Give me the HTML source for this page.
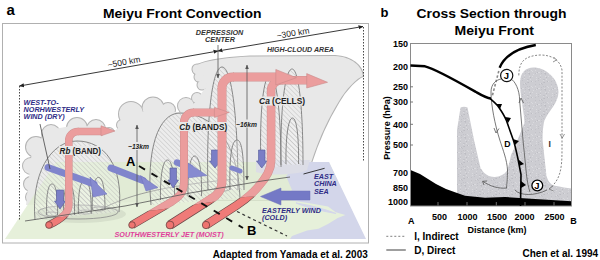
<!DOCTYPE html>
<html><head><meta charset="utf-8">
<style>
html,body{margin:0;padding:0;background:#fff;width:600px;height:260px;overflow:hidden}
svg{display:block}
text{font-family:"Liberation Sans",sans-serif}
</style></head><body>
<svg width="600" height="260" viewBox="0 0 600 260">
<defs>
<pattern id="hatch" patternUnits="userSpaceOnUse" width="3.3" height="3.3" patternTransform="rotate(-45)">
<rect width="3.3" height="3.3" fill="#ffffff" fill-opacity="0.18"/>
<line x1="0" y1="0" x2="0" y2="3.3" stroke="#b8b8b8" stroke-width="0.85"/>
</pattern>
<pattern id="speck" patternUnits="userSpaceOnUse" width="16" height="16">
<rect width="16" height="16" fill="#cdcdd2"/>
<rect x="7" y="4" width="1" height="1" fill="#c2c2c8"/><rect x="15" y="2" width="1" height="1" fill="#dadade"/><rect x="0" y="15" width="1" height="1" fill="#c2c2c8"/><rect x="7" y="6" width="1" height="1" fill="#dadade"/><rect x="15" y="15" width="1" height="1" fill="#c2c2c8"/><rect x="4" y="7" width="1" height="1" fill="#dadade"/><rect x="4" y="12" width="1" height="1" fill="#dadade"/><rect x="0" y="2" width="1" height="1" fill="#bcbcc2"/><rect x="1" y="9" width="1" height="1" fill="#bcbcc2"/><rect x="8" y="15" width="1" height="1" fill="#dadade"/><rect x="12" y="13" width="1" height="1" fill="#c2c2c8"/><rect x="14" y="4" width="1" height="1" fill="#c2c2c8"/><rect x="3" y="1" width="1" height="1" fill="#bcbcc2"/><rect x="15" y="6" width="1" height="1" fill="#c2c2c8"/><rect x="13" y="9" width="1" height="1" fill="#c2c2c8"/><rect x="12" y="11" width="1" height="1" fill="#dadade"/><rect x="13" y="7" width="1" height="1" fill="#c2c2c8"/><rect x="0" y="8" width="1" height="1" fill="#dadade"/><rect x="5" y="10" width="1" height="1" fill="#dadade"/><rect x="3" y="6" width="1" height="1" fill="#dadade"/><rect x="8" y="9" width="1" height="1" fill="#bcbcc2"/><rect x="2" y="15" width="1" height="1" fill="#dadade"/><rect x="15" y="2" width="1" height="1" fill="#c2c2c8"/><rect x="2" y="13" width="1" height="1" fill="#bcbcc2"/><rect x="0" y="9" width="1" height="1" fill="#c2c2c8"/><rect x="13" y="3" width="1" height="1" fill="#bcbcc2"/><rect x="1" y="12" width="1" height="1" fill="#dadade"/><rect x="10" y="8" width="1" height="1" fill="#dadade"/><rect x="7" y="1" width="1" height="1" fill="#c2c2c8"/><rect x="0" y="2" width="1" height="1" fill="#bcbcc2"/><rect x="1" y="6" width="1" height="1" fill="#c2c2c8"/><rect x="9" y="8" width="1" height="1" fill="#bcbcc2"/><rect x="1" y="10" width="1" height="1" fill="#c2c2c8"/><rect x="11" y="4" width="1" height="1" fill="#c2c2c8"/><rect x="12" y="14" width="1" height="1" fill="#dadade"/><rect x="12" y="3" width="1" height="1" fill="#dadade"/><rect x="8" y="13" width="1" height="1" fill="#dadade"/><rect x="7" y="9" width="1" height="1" fill="#c2c2c8"/><rect x="8" y="9" width="1" height="1" fill="#dadade"/><rect x="10" y="0" width="1" height="1" fill="#c2c2c8"/><rect x="10" y="0" width="1" height="1" fill="#c2c2c8"/><rect x="4" y="1" width="1" height="1" fill="#dadade"/><rect x="10" y="14" width="1" height="1" fill="#c2c2c8"/><rect x="11" y="8" width="1" height="1" fill="#dadade"/><rect x="15" y="0" width="1" height="1" fill="#dadade"/>
</pattern>
<marker id="ah" viewBox="0 0 10 10" refX="9" refY="5" markerWidth="5.5" markerHeight="5.5" orient="auto-start-reverse">
<path d="M0,1 L10,5 L0,9 z" fill="#222"/>
</marker>
<marker id="ahg" viewBox="0 0 10 10" refX="9" refY="5" markerWidth="6" markerHeight="6" orient="auto-start-reverse">
<path d="M0,1 L10,5 L0,9 z" fill="#555"/>
</marker>
</defs>

<!-- titles -->
<text x="6.5" y="15" font-size="15" font-weight="bold">a</text>
<text x="103" y="17.7" font-size="13" font-weight="bold" textLength="158.5" lengthAdjust="spacingAndGlyphs">Meiyu Front Convection</text>
<text x="380.5" y="17.2" font-size="13" font-weight="bold">b</text>
<text x="416.5" y="17.8" font-size="13" font-weight="bold" textLength="150" lengthAdjust="spacingAndGlyphs">Cross Section through</text>
<text x="454.5" y="34.5" font-size="13" font-weight="bold" textLength="79.5" lengthAdjust="spacingAndGlyphs">Meiyu Front</text>

<!-- ============ LEFT PANEL ============ -->
<g id="left">
<g fill="#b3b3b3">
<path d="M194,73 C187,64 212,58.5 250,56.5 L335,56 C352,57 362,66 363,76 C357,78 346,89 338.5,102 C330,116 320,135 311,163 L305,200 L212,200 L207,92 L199,76 Z" stroke="#b3b3b3" stroke-width="2"/>
<circle cx="197" cy="69" r="4.5" stroke="#b3b3b3" stroke-width="2"/>
<circle cx="199" cy="77" r="4.5" stroke="#b3b3b3" stroke-width="2"/>
<circle cx="202" cy="85" r="4.5" stroke="#b3b3b3" stroke-width="2"/>
<circle cx="197" cy="98" r="5" stroke="#b3b3b3" stroke-width="2"/>
<circle cx="186" cy="106" r="8" stroke="#b3b3b3" stroke-width="2"/>
<circle cx="168" cy="110" r="7" stroke="#b3b3b3" stroke-width="2"/>
<circle cx="153" cy="108" r="10.5" stroke="#b3b3b3" stroke-width="2"/>
<circle cx="131" cy="114" r="12" stroke="#b3b3b3" stroke-width="2"/>
<circle cx="122" cy="125" r="5" stroke="#b3b3b3" stroke-width="2"/>
<circle cx="109" cy="133" r="5" stroke="#b3b3b3" stroke-width="2"/>
<circle cx="96" cy="129" r="9" stroke="#b3b3b3" stroke-width="2"/>
<circle cx="77" cy="128" r="10" stroke="#b3b3b3" stroke-width="2"/>
<circle cx="51" cy="134" r="9" stroke="#b3b3b3" stroke-width="2"/>
<circle cx="36" cy="147" r="10" stroke="#b3b3b3" stroke-width="2"/>
<circle cx="31" cy="166" r="8" stroke="#b3b3b3" stroke-width="2"/>
<circle cx="31" cy="184" r="7" stroke="#b3b3b3" stroke-width="2"/>
<circle cx="32" cy="197" r="6" stroke="#b3b3b3" stroke-width="2"/>
</g>
<g fill="#e8e8e8">
<path d="M194,73 C187,64 212,58.5 250,56.5 L335,56 C352,57 362,66 363,76 C357,78 346,89 338.5,102 C330,116 320,135 311,163 L305,200 L212,200 L207,92 L199,76 Z"/>
<circle cx="197" cy="69" r="4.5"/>
<circle cx="199" cy="77" r="4.5"/>
<circle cx="202" cy="85" r="4.5"/>
<circle cx="197" cy="98" r="5"/>
<circle cx="186" cy="106" r="8"/>
<circle cx="168" cy="110" r="7"/>
<circle cx="153" cy="108" r="10.5"/>
<circle cx="131" cy="114" r="12"/>
<circle cx="122" cy="125" r="5"/>
<circle cx="109" cy="133" r="5"/>
<circle cx="96" cy="129" r="9"/>
<circle cx="77" cy="128" r="10"/>
<circle cx="51" cy="134" r="9"/>
<circle cx="36" cy="147" r="10"/>
<circle cx="31" cy="166" r="8"/>
<circle cx="31" cy="184" r="7"/>
<circle cx="32" cy="197" r="6"/>
<path d="M32,150 L48,130 L77,125 L100,128 L108,136 L122,125 L141,112 L186,112 L197,100 L205,88 L209,92 L216,200 L26,205 Z"/>
</g>
<!-- ground -->
<path d="M56,162 L329,162 L365,239 L5,239 Z" fill="#dfeccf" opacity="0.78"/>
<!-- sea -->
<path d="M300,162 L329,162 L366,239 L290,239 L292,236 L307,230.6 L318.5,228.7 L328,224 L337.7,218 L345.4,215 L335.8,212.3 L328,206.5 L312.7,203.7 L293.5,200.8 L284,198.8 L292,190 L286,176 Z" fill="#d3d6ea"/>
<path d="M296,203 C308,205 322,208 336,213.5 C322,211 308,208 296,203 Z" fill="#d3d6ea" stroke="#d3d6ea" stroke-width="1.2"/>
<!-- ground ellipses -->
<ellipse cx="80" cy="214" rx="46" ry="9" fill="#b9c2b2" opacity="0.35"/>

<g fill="none" stroke="#8a8a8a" stroke-width="0.8">
<ellipse cx="78" cy="212" rx="40" ry="7"/><ellipse cx="52" cy="214" rx="6" ry="2"/><ellipse cx="85" cy="212" rx="6.5" ry="2"/><ellipse cx="98.6" cy="209" rx="6.5" ry="2"/>
<path d="M100,210 C125,196 160,186 236,179"/>
<ellipse cx="271" cy="167" rx="9.5" ry="2.6"/><ellipse cx="292" cy="164.5" rx="11" ry="3"/><ellipse cx="222" cy="189" rx="8" ry="2.2"/>
</g>

<!-- domes -->
<path d="M256,160 L310,160 L307,170 C300,175 266,176 256,172 Z" fill="#dcdde6"/>
<g stroke="#7c7c7c" stroke-width="0.9" fill="url(#hatch)">
<path d="M35,220 C31,175 50,141 77,141 C104,141 124,165 119,212"/>
<path d="M151,205 C146,150 158,113 180,113 C212,113 238,140 240,198"/>
<path d="M208,190 C206,120 212,67 222,67 C232,67 238,120 238,190"/>
<path d="M261,167 C259,110 264,75 270,75 C276,75 281,110 281,167"/>
<path d="M281,165 C280,110 285,69 292,69 C299,69 303,110 303,165"/>
<path d="M286,164 C285.5,140 288,118 292.5,118 C297,118 299,140 298.5,164"/>
<path d="M46.7,215 C46,196 48,184 52,184 C56,184 58,196 57.5,215"/>
<path d="M63.6,215 C63,196 65,185 69,185 C73,185 75,196 74.4,215"/>
<path d="M78.4,214 C78,194 80,180.6 84.7,180.6 C89.5,180.6 91.5,194 91.2,214"/>
<path d="M92.2,210 C92,190 94,177.4 98.5,177.4 C103,177.4 105,190 105,210"/>
<path d="M160.5,200 C160,175 163,160 167.5,160 C172,160 175,175 174.5,200"/>
<path d="M188,196 C187.5,172 190,156 194.7,156 C199.5,156 202,172 201.5,196"/>
<path d="M230,190 C229,150 233,140 237,140 C241,140 244,150 244,190"/>
</g>

<!-- blue arrows (back) -->
<g stroke-linecap="round" fill="none" stroke="#8085cc">
<line x1="48" y1="167.5" x2="94" y2="184" stroke-width="7"/>
<line x1="111" y1="168" x2="143" y2="180.5" stroke-width="7"/>
<line x1="177" y1="162.5" x2="190" y2="167.5" stroke-width="6.5"/>
<line x1="232" y1="168" x2="240" y2="171" stroke-width="5"/>
</g>
<g fill="#878bd0" stroke="#6f73b8" stroke-width="0.5">
<path d="M90,177 L107,194 L93,197 Z"/>
<path d="M140.5,175.5 L158,187.5 L146,191 Z"/>
<path d="M188,163 L207,175.5 L187,178 Z"/>
<path d="M310,191 L281,191 L281,188 L260.5,196.5 L281,205 L281,200 L310,200 Z" fill="#7479c6"/>
</g>
<!-- dimension lines -->
<line x1="19.5" y1="86" x2="218" y2="51" stroke="#222" stroke-width="0.9" marker-start="url(#ah)" marker-end="url(#ah)"/>
<line x1="218" y1="51" x2="363" y2="26.5" stroke="#222" stroke-width="0.9" marker-start="url(#ah)" marker-end="url(#ah)"/>
<line x1="218" y1="45" x2="218" y2="78" stroke="#555" stroke-width="0.8" marker-end="url(#ahg)"/>
<line x1="19.5" y1="86" x2="19.5" y2="221" stroke="#333" stroke-width="0.9" stroke-dasharray="1.5,1.5"/>
<line x1="363.5" y1="27" x2="363.5" y2="162" stroke="#333" stroke-width="0.9" stroke-dasharray="1.5,1.5"/>
<text transform="translate(124.5,65) rotate(-10)" font-size="8.6" text-anchor="middle" fill="#222">~500 km</text>
<text transform="translate(293.5,36) rotate(-9.5)" font-size="8.6" text-anchor="middle" fill="#222">~300 km</text>
<g font-size="7" font-weight="bold" font-style="italic" fill="#333" text-anchor="middle">
<text x="219.6" y="35.2" textLength="47.5" lengthAdjust="spacingAndGlyphs">DEPRESSION</text>
<text x="220" y="42.2" textLength="30" lengthAdjust="spacingAndGlyphs">CENTER</text>
<text x="300.5" y="52.4" textLength="67" lengthAdjust="spacingAndGlyphs">HIGH-CLOUD AREA</text>
</g>
<g font-size="7.2" font-weight="bold" font-style="italic" fill="#2e2c86">
<text x="23.6" y="104.6">WEST-TO-</text>
<text x="23.6" y="111.6">NORHWESTERLY</text>
<text x="23.6" y="118.6">WIND (DRY)</text>
<text x="314" y="179">EAST</text>
<text x="314" y="186.3">CHINA</text>
<text x="314" y="193.6">SEA</text>
<text x="262" y="212.6">EASTERLY WIND</text>
<text x="262" y="220">(COLD)</text>
</g>
<line x1="40" y1="124" x2="50" y2="169" stroke="#444" stroke-width="0.8"/>
<line x1="324.6" y1="168.3" x2="303.5" y2="174" stroke="#222" stroke-width="0.9"/>

<!-- small blue down arrows -->
<g fill="#7a7ec6" stroke="#555a9a" stroke-width="0.6">
<path d="M56.5,190 L63.5,190 L63.5,201 L65.5,201 L60,209 L54.5,201 L56.5,201 Z"/>
<path d="M170,168 L176.5,168 L176.5,180 L178.5,180 L173.2,188 L168,180 L170,180 Z"/>
<path d="M211.5,150 L218.5,150 L218.5,161 L220.5,161 L215,168 L209.5,161 L211.5,161 Z"/>
<path d="M258.5,150 L265,150 L265,161 L267,161 L261.8,168 L256.5,161 L258.5,161 Z"/>
</g>

<!-- pink tubes -->
<clipPath id="below"><path d="M0,219 L62,217 L157,210 L205,203 L245,197 L370,190 L370,260 L0,260 Z"/></clipPath>
<clipPath id="above"><path d="M0,0 L370,0 L370,190 L245,197 L205,203 L157,210 L62,217 L0,219 Z"/></clipPath>
<g fill="none" stroke-linecap="butt" clip-path="url(#above)">
<path d="M68.8,140 L68.8,205 C68.8,213 62,219 49,225" stroke="#cf9090" stroke-width="7.6"/>
<path d="M77.8,131.5 L103,131.5" stroke="#cf9090" stroke-width="7.6"/>
<path d="M184,122 L184,182 C184,192 180,196 172,201.5 L132,225" stroke="#cf9090" stroke-width="8.0"/>
<path d="M193,112.5 L216,112.5" stroke="#cf9090" stroke-width="8.0"/>
<path d="M222,88 L222,181 C222,190 218,195 210,199.5 L170,225" stroke="#cf9090" stroke-width="9.0"/>
<path d="M233,77 L278,77" stroke="#cf9090" stroke-width="9.0"/>
<path d="M271.1,91 L271.1,161 C271.1,170 266,178 258,187 C252,194 246,199 236.5,205.4 L206,225" stroke="#cf9090" stroke-width="8.6"/>
<path d="M281.6,80.3 L307,80.3" stroke="#cf9090" stroke-width="8.6"/>
<path d="M68.8,141 A9,9 0 0 1 77.8,131.5 L78.8,131.5" stroke="#cf9090" stroke-width="7.6"/>
<path d="M184,122.5 A9.5,9.5 0 0 1 193.5,112.5 L194,112.5" stroke="#cf9090" stroke-width="8.0"/>
<path d="M222,89 A11,11 0 0 1 233,77 L234,77" stroke="#cf9090" stroke-width="9.0"/>
<path d="M271.1,91.5 A10.5,10.5 0 0 1 281.6,80.3 L282.6,80.3" stroke="#cf9090" stroke-width="8.6"/>
<path d="M68.8,140 L68.8,205 C68.8,213 62,219 49,225" stroke="#eb9d9d" stroke-width="6.6"/>
<path d="M77.8,131.5 L103,131.5" stroke="#eb9d9d" stroke-width="6.6"/>
<path d="M184,122 L184,182 C184,192 180,196 172,201.5 L132,225" stroke="#eb9d9d" stroke-width="7.0"/>
<path d="M193,112.5 L216,112.5" stroke="#eb9d9d" stroke-width="7.0"/>
<path d="M222,88 L222,181 C222,190 218,195 210,199.5 L170,225" stroke="#eb9d9d" stroke-width="8.0"/>
<path d="M233,77 L278,77" stroke="#eb9d9d" stroke-width="8.0"/>
<path d="M271.1,91 L271.1,161 C271.1,170 266,178 258,187 C252,194 246,199 236.5,205.4 L206,225" stroke="#eb9d9d" stroke-width="7.6"/>
<path d="M281.6,80.3 L307,80.3" stroke="#eb9d9d" stroke-width="7.6"/>
<path d="M68.8,141 A9,9 0 0 1 77.8,131.5 L78.8,131.5" stroke="#eb9d9d" stroke-width="6.6"/>
<path d="M184,122.5 A9.5,9.5 0 0 1 193.5,112.5 L194,112.5" stroke="#eb9d9d" stroke-width="7.0"/>
<path d="M222,89 A11,11 0 0 1 233,77 L234,77" stroke="#eb9d9d" stroke-width="8.0"/>
<path d="M271.1,91.5 A10.5,10.5 0 0 1 281.6,80.3 L282.6,80.3" stroke="#eb9d9d" stroke-width="7.6"/>
</g>
<g fill="none" stroke-linecap="butt" clip-path="url(#below)">
<path d="M68.8,140 L68.8,205 C68.8,213 62,219 49,225" stroke="#6a4a4a" stroke-width="7.8"/>
<path d="M184,122 L184,182 C184,192 180,196 172,201.5 L132,225" stroke="#6a4a4a" stroke-width="8.2"/>
<path d="M222,88 L222,181 C222,190 218,195 210,199.5 L170,225" stroke="#6a4a4a" stroke-width="9.2"/>
<path d="M271.1,91 L271.1,161 C271.1,170 266,178 258,187 C252,194 246,199 236.5,205.4 L206,225" stroke="#6a4a4a" stroke-width="8.799999999999999"/>
<path d="M68.8,140 L68.8,205 C68.8,213 62,219 49,225" stroke="#ef7b78" stroke-width="6.6"/>
<path d="M184,122 L184,182 C184,192 180,196 172,201.5 L132,225" stroke="#ef7b78" stroke-width="7.0"/>
<path d="M222,88 L222,181 C222,190 218,195 210,199.5 L170,225" stroke="#ef7b78" stroke-width="8.0"/>
<path d="M271.1,91 L271.1,161 C271.1,170 266,178 258,187 C252,194 246,199 236.5,205.4 L206,225" stroke="#ef7b78" stroke-width="7.6"/>
</g>
<g fill="#eb9d9d" stroke="#c98a8a" stroke-width="0.6">
<path d="M101,125.8 L115,131 L101,135.8 Z"/>
<path d="M214.4,107.4 L229.2,112.4 L214.4,117.4 Z"/>
<path d="M275.8,69.5 L296.5,77.7 L275.8,85 Z"/>
<path d="M306.7,73.6 L327.5,82.3 L306.7,88 Z"/>
</g>
<g fill="#ef7470" stroke="#5a3a3a" stroke-width="0.7">
<circle cx="132" cy="225" r="3.3"/>
<circle cx="170" cy="225" r="3.9"/>
<circle cx="206" cy="225" r="3.7"/>
<circle cx="49" cy="225" r="3.4"/>
</g>

<!-- ground line and dashed A-B -->
<path d="M25,221 L125,206 L190,193 L262,181 L290,177" fill="none" stroke="#555" stroke-width="0.8"/>
<line x1="139" y1="166" x2="243" y2="228" stroke="#111" stroke-width="1.9" stroke-dasharray="7,7.5"/>
<line x1="237" y1="211.5" x2="287" y2="236" stroke="#333" stroke-width="1.2" stroke-dasharray="3,3"/>

<text x="126" y="166.4" font-size="13" font-weight="bold">A</text>
<text x="247" y="235" font-size="13" font-weight="bold">B</text>
<rect x="59" y="146" width="43" height="9" fill="#e8e8e8"/>
<rect x="178" y="122" width="50" height="9" fill="#e8e8e8"/>
<rect x="258" y="96.5" width="48" height="9" fill="#e8e8e8"/>
<g font-size="8.3" fill="#222" font-weight="bold">
<text x="59.6" y="153.8" textLength="41.4" lengthAdjust="spacingAndGlyphs"><tspan font-style="italic">Rb</tspan> (BAND)</text>
<text x="179.2" y="129.8" textLength="48" lengthAdjust="spacingAndGlyphs"><tspan font-style="italic">Cb</tspan> (BANDS)</text>
<text x="259.1" y="104.2" textLength="46" lengthAdjust="spacingAndGlyphs"><tspan font-style="italic">Ca</tspan> (CELLS)</text>
</g>
<line x1="137" y1="207" x2="137" y2="125" stroke="#555" stroke-width="0.8" marker-end="url(#ahg)" marker-start="url(#ahg)"/>
<line x1="247" y1="180" x2="247" y2="65" stroke="#555" stroke-width="0.8" marker-end="url(#ahg)" marker-start="url(#ahg)"/>
<g font-size="7" font-style="italic" font-weight="bold" fill="#222">
<rect x="127" y="142" width="21" height="8" fill="#e8e8e8"/><text x="128" y="149" textLength="21" lengthAdjust="spacingAndGlyphs">~13km</text>
<rect x="236" y="119.5" width="21" height="8" fill="#e8e8e8"/><text x="236" y="126.5" textLength="21" lengthAdjust="spacingAndGlyphs">~16km</text>
</g>
<text x="114.5" y="236.5" font-size="7.2" font-weight="bold" font-style="italic" fill="#e0409a">SOUTHWESTERLY JET (MOIST)</text>

<!-- frame -->
<rect x="2.5" y="23.5" width="366" height="219.5" fill="none" stroke="#b0b0b0" stroke-width="1"/>
</g>
<text x="212.7" y="257.7" font-size="10" font-weight="bold" textLength="155" lengthAdjust="spacingAndGlyphs">Adapted from Yamada et al. 2003</text>

<!-- ============ RIGHT PANEL ============ -->
<g id="right">
<!-- gray shading -->
<path d="M460.5,107.5 Q464,106 467.5,107.5 L472,130 L474,140 L480.5,168 C484,174 489,177 494.4,177 C500,177 505,174 507,170.5 C509,165 510,160 511,155 L515.8,145 C519,135 523,128 524.5,122 C524,112 520,95 520,83 C520,72 526,67.5 533.5,67.5 C545,67.5 558.5,78 558.5,92 C558.5,104 547,112 544,122 C542.5,130 542.6,135 542.6,140 L546.4,175.5 C548,182 552,186 556.6,186 C562,187 566,188 571.5,188.5 L571.5,203 L457,203 L457,130 Z" fill="url(#speck)"/>
<!-- terrain -->
<path d="M410.5,170 L420,174 L436,184 L446,189 L455,192.3 L465,195.7 L485,197.7 L505,197 L535,199 L571.5,201.3 L571.5,206 L410.5,206 Z" fill="#000"/>
<rect x="410.5" y="43.5" width="161" height="162.5" fill="none" stroke="#8a8a8a" stroke-width="1"/>
<g stroke="#888" stroke-width="0.8"><line x1="438" y1="202" x2="438" y2="205.5"/><line x1="467" y1="202" x2="467" y2="205.5"/><line x1="496.3" y1="202" x2="496.3" y2="205.5"/><line x1="525" y1="202" x2="525" y2="205.5"/><line x1="554" y1="202" x2="554" y2="205.5"/></g>
<!-- ticks -->
<g stroke="#555" stroke-width="0.8">
<line x1="410.5" y1="86.8" x2="413" y2="86.8"/>
<line x1="410.5" y1="102" x2="413" y2="102"/>
<line x1="410.5" y1="124.3" x2="413" y2="124.3"/>
<line x1="410.5" y1="145" x2="413" y2="145"/>
</g>
<!-- tropopause -->
<path d="M410.5,65.5 L425,66.3 C436,69 462,84 476,92 C482,95.5 486,98 491,98.5" fill="none" stroke="#000" stroke-width="2.4"/>
<path d="M499.6,67.7 C505,55 518,48 535.8,45" fill="none" stroke="#000" stroke-width="2.4"/>
<path d="M498.8,71 L492,97" fill="none" stroke="#888" stroke-width="1.6" stroke-dasharray="2.5,2"/>
<!-- D loop (solid thin) -->
<path d="M501,79 C496,80 491,84 491,92 C491,105 495,125 499.8,140 C503,150 507,160 507.5,170 C507.5,178 507,182 506.5,188" fill="none" stroke="#555" stroke-width="0.8"/>
<path d="M511,79 C515,81 519.6,90 519.6,100 L523,140 L526,170 C527,180 528,186 530,192" fill="none" stroke="#555" stroke-width="0.8"/>
<path d="M483,181.5 C490,186 498,189 507,188" fill="none" stroke="#555" stroke-width="0.8"/>
<path d="M482.5,181.3 L487,181 M482.5,181.3 L484,185" stroke="#555" stroke-width="0.8"/>
<path d="M519,103 L521,98 L523.5,103 M494,128 L496,133 L499,128.5" fill="none" stroke="#555" stroke-width="0.8"/>
<path d="M515,190 C520,196 535,196 547,190" fill="none" stroke="#555" stroke-width="0.8"/>
<!-- I loop (dashed) -->
<path d="M518.8,75.4 C519,62 524,56 540,55 C552,55 560,60 562,70 L562,150 C562,170 560,180 549,189" fill="none" stroke="#777" stroke-width="0.9" stroke-dasharray="2,1.6"/>
<path d="M553.7,57 L556.5,60 L553,62 M560,134 L562.2,138 L564.5,134 M549,189 L553,186 M549,189 L553.5,191" fill="none" stroke="#777" stroke-width="0.8"/>
<!-- front -->
<path d="M490.2,98.7 C494,102 498,106 498.8,107.3 C502,112 505,117 506.5,120.8 L513.3,140 C515,145 518,159 518,159 L521,174.6 L520.5,206" fill="none" stroke="#000" stroke-width="1.6"/>
<g fill="#000">
<path d="M496,104 L502,104 L500,109 Z"/>
<path d="M505,117 L511,118 L508,123 Z"/>
<path d="M513,139 L519,141 L515,145 Z"/>
<path d="M519,160 L524,164 L519,166 Z"/>
<path d="M521,181 L526,185 L521,188 Z"/>
</g>
<circle cx="506.7" cy="75.5" r="6.1" fill="#fff" stroke="#111" stroke-width="1.2"/>
<text x="506.4" y="79.3" font-size="9.5" font-weight="bold" text-anchor="middle">J</text>
<circle cx="537.3" cy="185.5" r="5.4" fill="#fff" stroke="#000" stroke-width="1.3"/>
<text x="537" y="189.2" font-size="9.5" font-weight="bold" text-anchor="middle">J</text>
<text x="504.3" y="147" font-size="8.7" font-weight="bold">D</text>
<text x="548.5" y="147" font-size="8.7" font-weight="bold" fill="#333">I</text>

<g font-size="9" font-weight="bold" text-anchor="end">
<text x="408" y="46.8">150</text>
<text x="408" y="70">200</text>
<text x="408" y="90.3">250</text>
<text x="408" y="105">300</text>
<text x="408" y="127.5">400</text>
<text x="408" y="148">500</text>
<text x="408" y="176.3">700</text>
<text x="408" y="191">850</text>
<text x="408" y="204.5">1000</text>
</g>
<text transform="translate(389.5,128) rotate(-90)" font-size="9" font-weight="bold" text-anchor="middle">Pressure (hPa)</text>
<g font-size="9" font-weight="bold">
<text x="408" y="223.9">A</text>
<text x="432" y="220">500</text>
<text x="457.5" y="220">1000</text>
<text x="487" y="220">1500</text>
<text x="514.5" y="220">2000</text>
<text x="544.6" y="220">2500</text>
<text x="570.3" y="223.8">B</text>
<text x="467.5" y="232.5">Distance (km)</text>
</g>
<g font-size="10" font-weight="bold">
<text x="414.2" y="239.7">I, Indirect</text>
<text x="414.2" y="253.7">D, Direct</text>
<text x="522.5" y="257">Chen et al. 1994</text>
</g>
<line x1="386.3" y1="236.3" x2="405.8" y2="236.3" stroke="#999" stroke-width="1.2" stroke-dasharray="2,2"/>
<line x1="386.3" y1="250" x2="405.8" y2="250" stroke="#888" stroke-width="1.6"/>
</g>
</svg>
</body></html>
